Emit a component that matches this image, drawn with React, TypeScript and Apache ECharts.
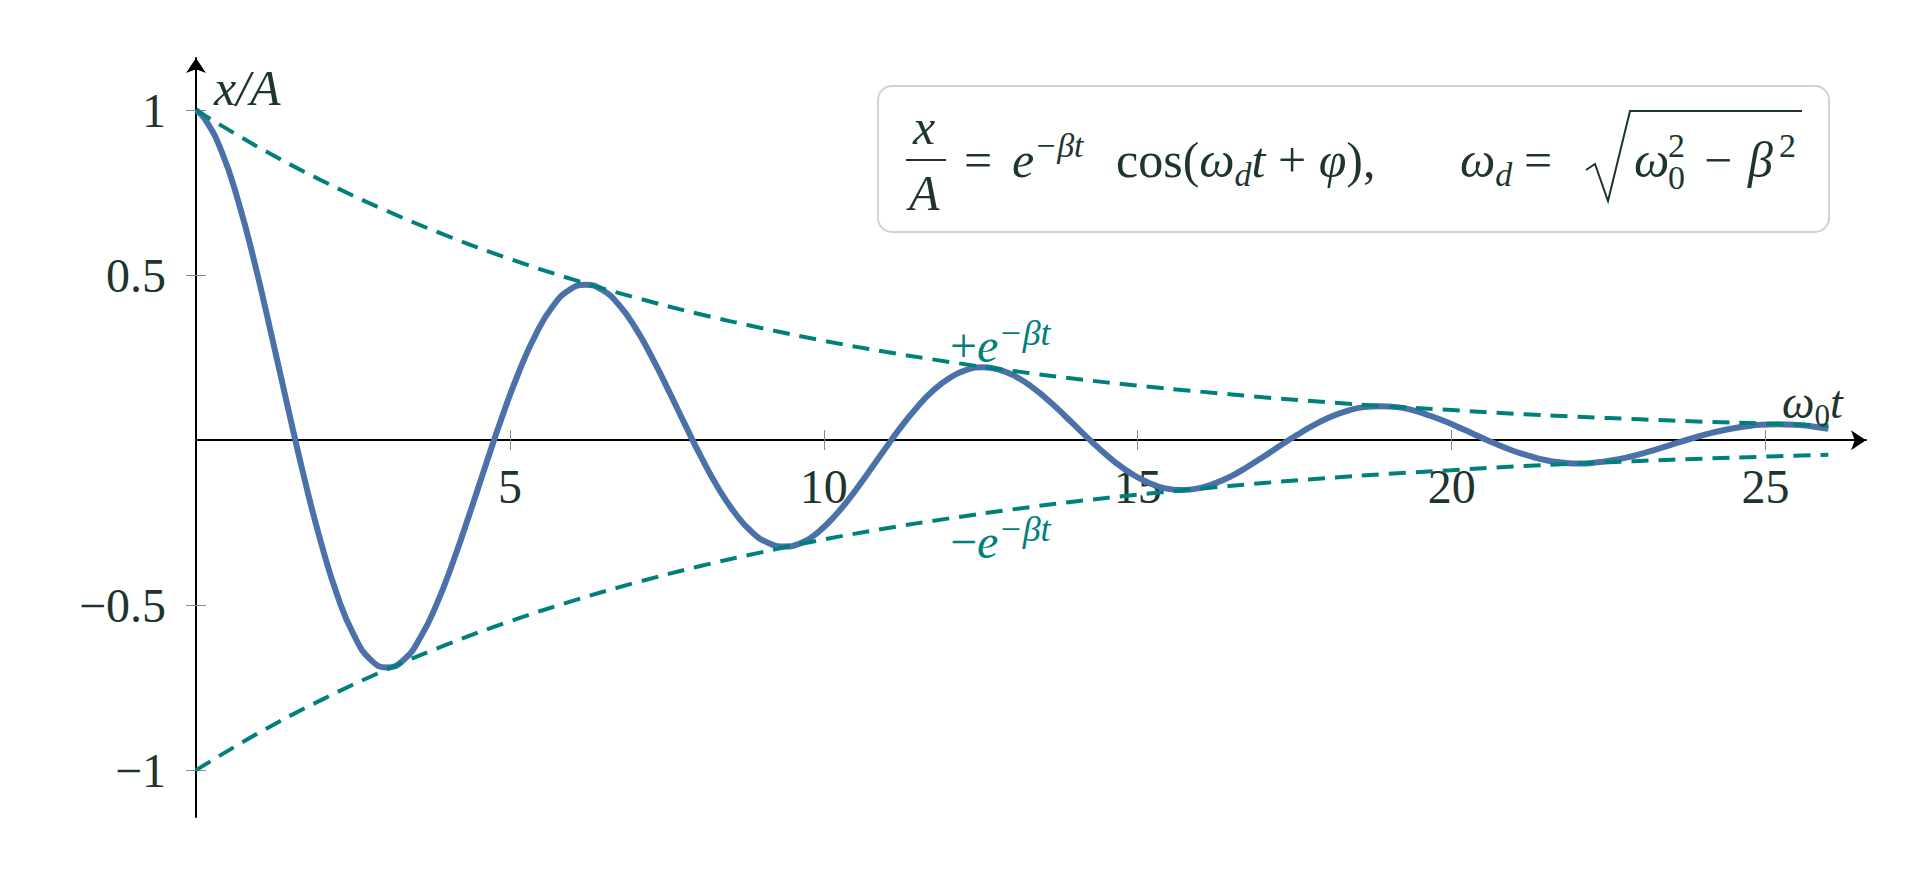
import React, { useRef, useEffect } from 'react';
import * as echarts from 'echarts';

// damped oscillation x/A; samples include every extremum
const T_CURVE = [
  0, 0.143, 0.406, 0.67, 0.934, 1.197, 1.461, 1.725, 1.989, 2.252, 2.516, 2.78,
  3.043, 3.307, 3.571, 3.834, 4.098, 4.362, 4.626, 4.889, 5.153, 5.417, 5.68, 5.944,
  6.208, 6.472, 6.735, 6.999, 7.263, 7.526, 7.79, 8.054, 8.318, 8.581, 8.845, 9.109,
  9.372, 9.636, 9.9, 10.163, 10.427, 10.691, 10.955, 11.218, 11.482, 11.746, 12.009, 12.273,
  12.537, 12.801, 13.064, 13.328, 13.592, 13.855, 14.119, 14.383, 14.647, 14.91, 15.174, 15.438,
  15.701, 15.965, 16.229, 16.492, 16.756, 17.02, 17.284, 17.547, 17.811, 18.075, 18.338, 18.602,
  18.866, 19.13, 19.393, 19.657, 19.921, 20.184, 20.448, 20.712, 20.976, 21.239, 21.503, 21.767,
  22.03, 22.294, 22.558, 22.821, 23.085, 23.349, 23.613, 23.876, 24.14, 24.404, 24.667, 24.931,
  25.195, 25.459, 25.722, 26,
];
const X_CURVE = [
  1.0, 0.973, 0.876, 0.726, 0.537, 0.323, 0.101, -0.115, -0.309, -0.471, -0.591, -0.665,
  -0.689, -0.666, -0.599, -0.497, -0.367, -0.221, -0.069, 0.078, 0.211, 0.322, 0.405, 0.455,
  0.471, 0.455, 0.41, 0.34, 0.251, 0.151, 0.047, -0.054, -0.145, -0.22, -0.277, -0.311,
  -0.322, -0.312, -0.28, -0.232, -0.172, -0.103, -0.032, 0.037, 0.099, 0.151, 0.189, 0.213,
  0.221, 0.213, 0.192, 0.159, 0.118, 0.071, 0.022, -0.025, -0.068, -0.103, -0.129, -0.146,
  -0.151, -0.146, -0.131, -0.109, -0.08, -0.048, -0.015, 0.017, 0.046, 0.071, 0.089, 0.1,
  0.103, 0.1, 0.09, 0.074, 0.055, 0.033, 0.01, -0.012, -0.032, -0.048, -0.061, -0.068,
  -0.071, -0.068, -0.061, -0.051, -0.038, -0.023, -0.007, 0.008, 0.022, 0.033, 0.041, 0.047,
  0.048, 0.047, 0.042, 0.034,
];

// envelope +/- e^(-beta t)
const T_ENV = [
  0, 1, 2, 3, 4, 5, 6, 7, 8, 9, 10, 11, 12, 13, 14, 15, 16, 17, 18, 19, 20, 21, 22, 23, 24, 25, 26,
];
const ENV_UPPER = [
  1.0, 0.887, 0.787, 0.698, 0.619, 0.549, 0.487, 0.432, 0.383, 0.34, 0.301, 0.267, 0.237,
  0.21, 0.186, 0.165, 0.147, 0.13, 0.115, 0.102, 0.091, 0.08, 0.071, 0.063, 0.056, 0.05, 0.044,
];
const ENV_LOWER = [
  -1.0, -0.887, -0.787, -0.698, -0.619, -0.549, -0.487, -0.432, -0.383, -0.34, -0.301, -0.267, -0.237,
  -0.21, -0.186, -0.165, -0.147, -0.13, -0.115, -0.102, -0.091, -0.08, -0.071, -0.063, -0.056, -0.05, -0.044,
];

const X_TICKS = [5, 10, 15, 20, 25];
const Y_TICKS = [-1, -0.5, 0.5, 1];

const X_MIN = 0;
const X_MAX = 26.6;
const Y_MIN = -1.142;
const Y_MAX = 1.158;

const INK = '#1d3430';
const TEAL = '#00807a';
const BLUE = '#4a72a8';
const TICK = '#8a8a8a';
const SERIF = 'Liberation Serif, DejaVu Serif, serif';

const GRID = { left: 196, right: 57, top: 58, bottom: 53 };

// rich text styles: main, italic, superscript, subscript
function richSet(size: number, color: string, supSize?: number) {
  const lh = Math.round(size * 1.25);
  const small = supSize ?? Math.round(size * 0.68);
  const base = { fontFamily: SERIF, fill: color, color };
  return {
    m: { ...base, fontSize: size, lineHeight: lh, verticalAlign: 'middle' },
    i: { ...base, fontSize: size, fontStyle: 'italic', lineHeight: lh, verticalAlign: 'middle' },
    sp: { ...base, fontSize: small, fontStyle: 'italic', lineHeight: Math.round(size * 0.64), verticalAlign: 'top' },
    sb: { ...base, fontSize: small, lineHeight: Math.round(size * 0.74), verticalAlign: 'bottom' },
    sbi: { ...base, fontSize: small, fontStyle: 'italic', lineHeight: Math.round(size * 0.74), verticalAlign: 'bottom' },
  };
}

function tex(x: number, y: number, text: string, size: number, color: string, supSize?: number) {
  return {
    type: 'text',
    x,
    y,
    silent: true,
    z: 20,
    style: {
      text,
      textAlign: 'left',
      textVerticalAlign: 'middle',
      fontFamily: SERIF,
      fontSize: size,
      fill: color,
      rich: richSet(size, color, supSize),
    },
  };
}

const pairs = (xs: number[], ys: number[]) => xs.map((x, i) => [x, ys[i]]);

const App: React.FC = () => {
  const chartRef = useRef<HTMLDivElement>(null);

  useEffect(() => {
    if (!chartRef.current) return;
    const chart = echarts.init(chartRef.current, undefined, { renderer: 'svg' });

    // place the x axis on y = 0 and the second y axis on x = 0 through offsets
    const gridH = chart.getHeight() - GRID.top - GRID.bottom;
    const gridW = chart.getWidth() - GRID.left - GRID.right;
    const zeroFromTop = (gridH * Y_MAX) / (Y_MAX - Y_MIN);

    const tickStyle = { show: true, customValues: X_TICKS, length: 10, lineStyle: { color: TICK, width: 1 } };
    const yTickStyle = { ...tickStyle, customValues: Y_TICKS };
    const tickLabel = { fontFamily: SERIF, fontSize: 48, color: INK };

    const option: any = {
      animation: false,
      backgroundColor: '#ffffff',
      grid: { ...GRID, outerBoundsMode: 'none' },
      xAxis: [
        {
          type: 'value',
          min: X_MIN,
          max: X_MAX,
          position: 'bottom',
          offset: -(gridH - zeroFromTop),
          axisLine: {
            onZero: false,
            symbol: ['none', 'arrow'],
            symbolSize: [15, 15],
            lineStyle: { color: '#000', width: 2 },
          },
          axisTick: tickStyle,
          axisLabel: { show: true, customValues: X_TICKS, margin: 22, ...tickLabel },
          splitLine: { show: false },
        },
        {
          type: 'value',
          min: X_MIN,
          max: X_MAX,
          position: 'top',
          offset: -zeroFromTop,
          axisLine: { show: false, onZero: false },
          axisTick: tickStyle,
          axisLabel: { show: false },
          splitLine: { show: false },
        },
      ],
      yAxis: [
        {
          type: 'value',
          min: Y_MIN,
          max: Y_MAX,
          position: 'left',
          axisLine: {
            show: true,
            onZero: false,
            symbol: ['none', 'arrow'],
            symbolSize: [15, 15],
            lineStyle: { color: '#000', width: 2 },
          },
          axisTick: yTickStyle,
          axisLabel: {
            show: true,
            customValues: Y_TICKS,
            margin: 30,
            ...tickLabel,
            formatter: (v: number) => (v < 0 ? '\u2212' + String(Math.abs(v)) : String(v)),
          },
          splitLine: { show: false },
        },
        {
          type: 'value',
          min: Y_MIN,
          max: Y_MAX,
          position: 'right',
          offset: -gridW,
          axisLine: { show: false, onZero: false },
          axisTick: yTickStyle,
          axisLabel: { show: false },
          splitLine: { show: false },
        },
      ],
      series: [
        {
          name: 'x/A',
          type: 'line',
          data: pairs(T_CURVE, X_CURVE),
          smooth: 0.5,
          showSymbol: false,
          lineStyle: { color: BLUE, width: 6 },
          z: 2,
        },
        {
          name: '+env',
          type: 'line',
          data: pairs(T_ENV, ENV_UPPER),
          smooth: 0.4,
          showSymbol: false,
          lineStyle: { color: TEAL, width: 4, type: [17, 10] },
          z: 3,
        },
        {
          name: '-env',
          type: 'line',
          data: pairs(T_ENV, ENV_LOWER),
          smooth: 0.4,
          showSymbol: false,
          lineStyle: { color: TEAL, width: 4, type: [17, 10] },
          z: 3,
        },
      ],
      graphic: [
        // axis names
        tex(214, 88, '{i|x/A}', 50, INK),
        tex(1782, 402, '{i|ω}{sb|0}{i|t}', 46, INK),
        // envelope labels
        tex(950, 345, '{m|+}{i|e}{sp|−βt}', 48, TEAL, 36),
        tex(950, 541, '{m|−}{i|e}{sp|−βt}', 48, TEAL, 36),
        // formula box
        {
          type: 'rect',
          z: 10,
          silent: true,
          shape: { x: 878, y: 86, width: 951, height: 146, r: 14 },
          style: { fill: '#ffffff', stroke: '#d2d2d2', lineWidth: 2 },
        },
        tex(913, 127, '{i|x}', 50, INK),
        {
          type: 'line',
          z: 20,
          silent: true,
          shape: { x1: 906, y1: 160, x2: 946, y2: 160 },
          style: { stroke: INK, lineWidth: 2 },
        },
        tex(909, 193, '{i|A}', 50, INK),
        tex(964, 160, '{m|=}', 50, INK),
        tex(1012, 160, '{i|e}{sp|−βt}', 50, INK, 34),
        tex(1116, 160, '{m|cos(}{i|ω}{sbi|d}{i|t}{m| + }{i|φ}{m|),}', 50, INK, 34),
        tex(1460, 160, '{i|ω}{sbi|d}', 50, INK, 34),
        tex(1524, 160, '{m|=}', 50, INK),
        {
          type: 'polyline',
          z: 20,
          silent: true,
          shape: { points: [[1586, 170], [1595, 164], [1608, 201], [1630, 111], [1802, 111]] },
          style: { stroke: INK, lineWidth: 2, fill: 'none' },
        },
        tex(1634, 160, '{i|ω}', 50, INK),
        tex(1668, 145, '{m|2}', 34, INK),
        tex(1668, 177, '{m|0}', 34, INK),
        tex(1704, 160, '{m|−}', 50, INK),
        tex(1748, 160, '{i|β}', 50, INK),
        tex(1779, 145, '{m|2}', 34, INK),
      ],
    };

    chart.setOption(option);

    const handleResize = () => chart.resize();
    window.addEventListener('resize', handleResize);
    return () => {
      window.removeEventListener('resize', handleResize);
      chart.dispose();
    };
  }, []);

  return (
    <div
      ref={chartRef}
      style={{ position: 'fixed', left: 0, top: 0, width: '100vw', height: '100vh', background: '#fff' }}
    />
  );
};

export default App;
